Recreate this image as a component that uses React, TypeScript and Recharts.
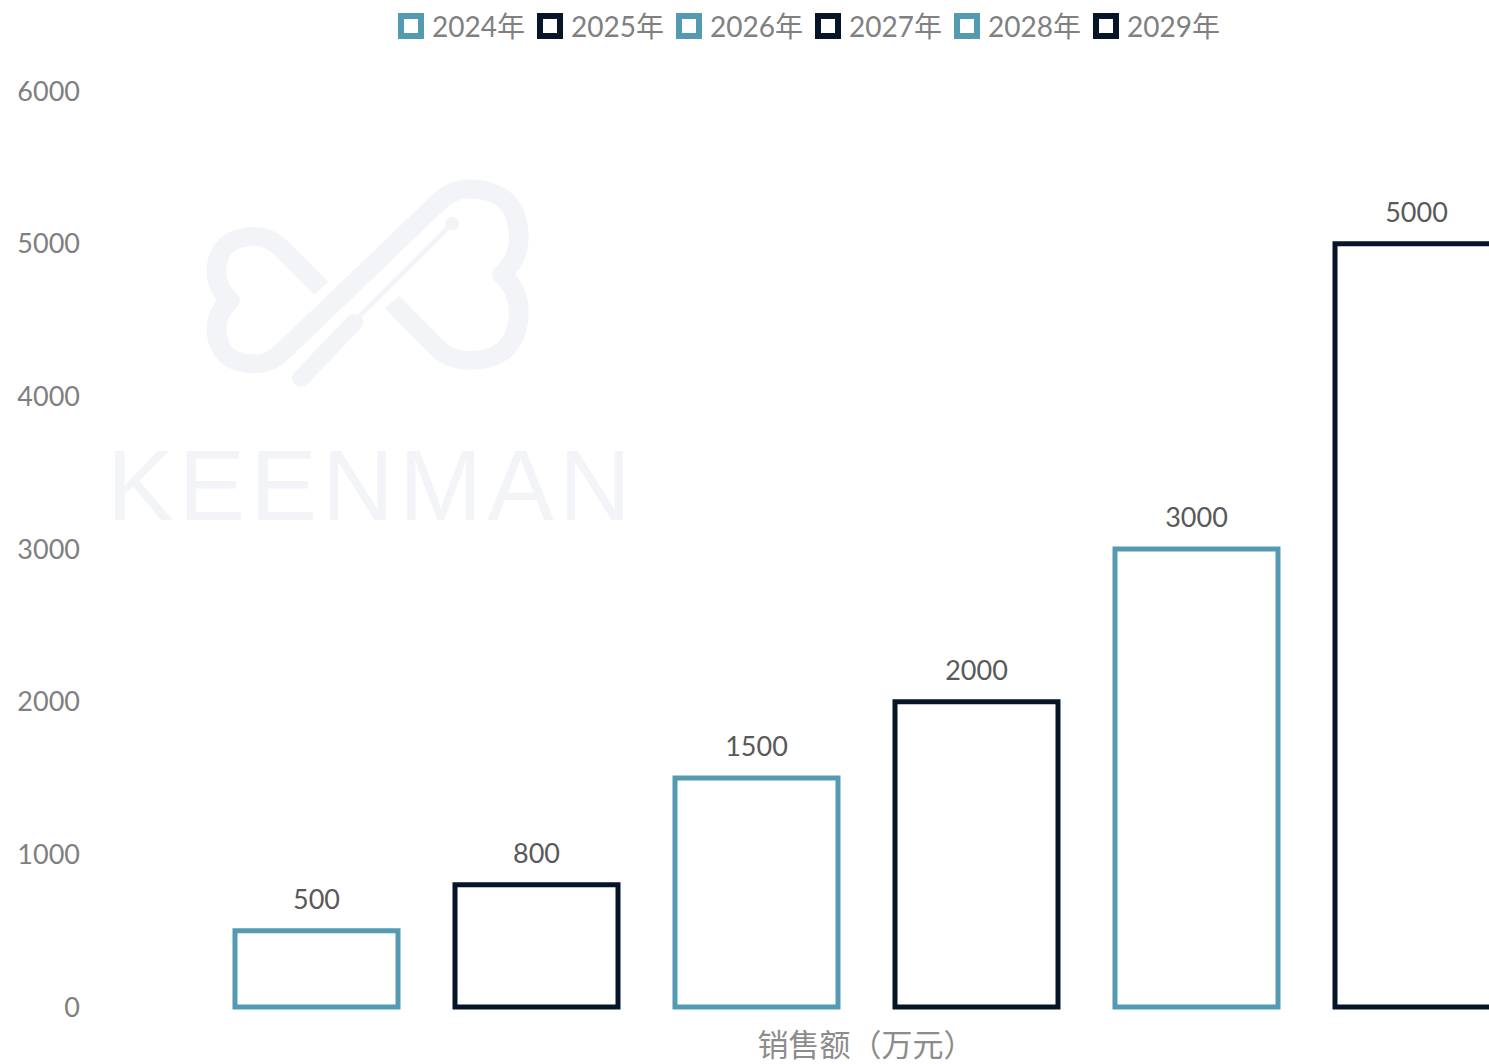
import React from 'react';
import { BarChart, Bar, XAxis, YAxis, Legend, LabelList } from 'recharts';

const categories = ['销售额（万元）'];
const seriesNames = ['2024年', '2025年', '2026年', '2027年', '2028年', '2029年'];
const seriesValues = [500, 800, 1500, 2000, 3000, 5000];
const yTicks = [0, 1000, 2000, 3000, 4000, 5000, 6000];

const TEAL = '#559ab3';
const NAVY = '#061628';
const seriesColors = [TEAL, NAVY, TEAL, NAVY, TEAL, NAVY];

const keys = seriesNames.map((_, i) => `s${i}`);
const data = categories.map((name) => {
  const row: Record<string, any> = { name };
  keys.forEach((k, i) => {
    row[k] = seriesValues[i];
  });
  return row;
});

const FONT = "Lato, 'Noto Sans CJK SC', sans-serif";
const WM = '#f2f4f7';

const LegendContent = () => (
  <div style={{ display: 'flex', alignItems: 'center', height: 30 }}>
    {seriesNames.map((n, i) => (
      <div key={n} style={{ display: 'flex', alignItems: 'center', width: 139, flex: '0 0 139px' }}>
        <svg width={26} height={26} style={{ display: 'block' }}>
          <rect x={3} y={3} width={20} height={20} fill="#fff" stroke={seriesColors[i]} strokeWidth={6} />
        </svg>
        <span style={{ marginLeft: 8, fontFamily: FONT, fontSize: 28, color: '#808080', lineHeight: '30px', whiteSpace: 'nowrap' }}>{n}</span>
      </div>
    ))}
  </div>
);

const Watermark = () => (
  <svg width={1489} height={1064} style={{ position: 'absolute', left: 0, top: 0 }}>
    <g transform="translate(87.9,166) scale(0.36,0.34)" fill="none" stroke={WM} strokeLinecap="round" strokeLinejoin="round">
      <path
        d="M 648 360 L 535 240 Q 500 205 458 207 Q 358 212 357 312 Q 358 360 395 395 Q 358 430 357 478 Q 360 580 460 582 Q 505 582 535 552 L 975 105 Q 1010 68 1060 67 Q 1197 70 1197 213 Q 1195 275 1150 320 Q 1197 365 1197 430 Q 1195 570 1060 572 Q 1005 572 970 535 L 845 400"
        strokeWidth={55}
        strokeLinecap="butt"
      />
      <line x1={1010} y1={172} x2={745} y2={452} strokeWidth={14} />
      <circle cx={1012} cy={170} r={20} fill={WM} stroke="none" />
      <line x1={740} y1={460} x2={592} y2={624} strokeWidth={50} />
    </g>
    <text x={107} y={520} fontFamily="'Liberation Sans', sans-serif" fontSize={100} fill={WM} textLength={524} lengthAdjust="spacing">KEENMAN</text>
  </svg>
);

export default function App() {
  return (
    <div style={{ position: 'fixed', left: 0, top: 0, width: 1489, height: 1064, overflow: 'hidden', background: '#fff' }}>
      <Watermark />
      <div style={{ position: 'absolute', left: 0, top: 0 }}>
        <BarChart
          width={1652}
          height={1064}
          data={data}
          margin={{ top: 91, right: 0, bottom: 0, left: 0 }}
          barGap={57}
          barSize={163}
        >
          <XAxis
            dataKey="name"
            axisLine={false}
            tickLine={false}
            tickSize={0}
            tickMargin={27}
            height={57}
            tick={{ fill: '#8c8c8c', fontSize: 31, fontFamily: "'Noto Sans CJK SC', sans-serif" }}
          />
          <YAxis
            domain={[0, 6000]}
            ticks={yTicks}
            width={80}
            axisLine={false}
            tickLine={false}
            tickSize={0}
            tickMargin={0}
            tick={{ fill: '#808080', fontSize: 27, fontFamily: FONT }}
          />
          <Legend
            verticalAlign="middle"
            layout="horizontal"
            content={<LegendContent />}
            wrapperStyle={{ position: 'absolute', top: 11, left: 398, width: 900, height: 30 }}
          />
          {keys.map((k, i) => (
            <Bar
              key={k}
              dataKey={k}
              name={seriesNames[i]}
              fill="#ffffff"
              stroke={seriesColors[i]}
              strokeWidth={5}
              isAnimationActive={false}
            >
              <LabelList dataKey={k} position="top" offset={22} fill="#595959" fontSize={27} fontFamily={FONT} />
            </Bar>
          ))}
        </BarChart>
      </div>
    </div>
  );
}
